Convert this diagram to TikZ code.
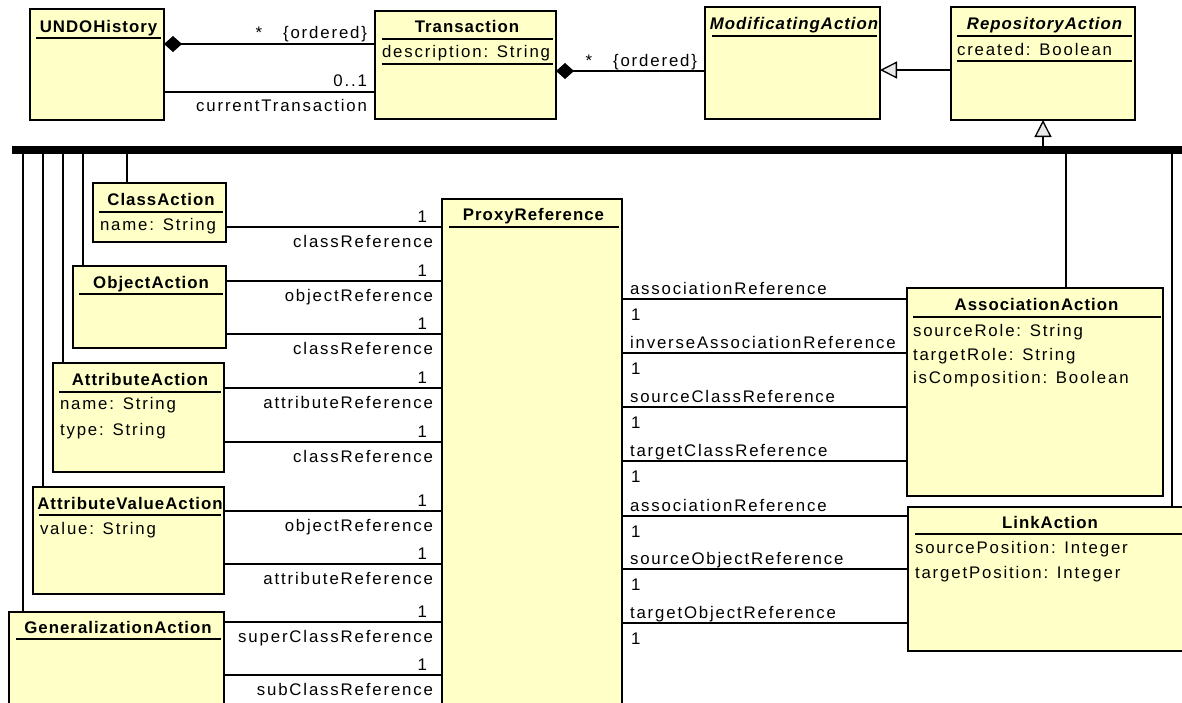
\documentclass[tikz,border=0pt]{standalone}
\usepackage{fontspec}
\setmainfont{Liberation Sans}[LetterSpace=11,BoldFeatures={LetterSpace=6},BoldItalicFeatures={LetterSpace=6}]
\usetikzlibrary{arrows.meta,calc}
\definecolor{clsfill}{RGB}{255,255,200}
\definecolor{tipfill}{RGB}{232,232,232}

\begin{document}
\begin{tikzpicture}[x=1pt,y=-1pt,
  every node/.style={font=\fontsize{16.8}{20}\selectfont, inner sep=0pt, outer sep=0pt},
  cls/.style 2 args={draw, fill=clsfill, line width=1.4pt, anchor=north west,
                     minimum width=#1pt, minimum height=#2pt},
  ttl/.style={font=\fontsize{16.8}{20}\selectfont\bfseries, anchor=base},
  attr/.style={anchor=base west},
  sep/.style={line width=1.3pt},
  conn/.style={line width=1.3pt},
  comp/.style={conn, {Diamond[length=18pt,width=16pt]}-},
  gen/.style={conn, -{Triangle[open, length=17pt, width=17pt, fill=tipfill]}}
]
\useasboundingbox (0,0) rectangle (1182,702);
\clip (0,0) rectangle (1182,702);
\fill[white] (0,0) rectangle (1182,702);

% class boxes
\node[cls={134}{111}] (undo)   at (30,9)    {};
\node[cls={181}{108}] (trans)  at (375,11)  {};
\node[cls={175}{112}] (modif)  at (705,7)   {};
\node[cls={184}{113}] (repo)   at (951,7)   {};
\node[cls={133}{59}]  (classA) at (93,183)  {};
\node[cls={153}{82}]  (objA)   at (73,266)  {};
\node[cls={171}{109}] (attrA)  at (53,363)  {};
\node[cls={191}{107}] (avA)    at (33,487)  {};
\node[cls={215}{110}] (genA)   at (9,612)   {};
\node[cls={180}{523}] (proxy)  at (442,199) {};
\node[cls={256}{208}] (assocA) at (907,288) {};
\node[cls={281}{144}] (linkA)  at (908,507) {};

% compartment separators
\foreach \b/\dy/\l/\r in {undo/29/6/3, trans/28/7/3, trans/53/7/3, modif/29/7/3,
    repo/29/6/3, repo/54/6/3, classA/29/6/3, objA/28/6/3, attrA/29/6/3,
    avA/28/6/3, genA/27/7/3, proxy/28/7/3, assocA/29/6/2, linkA/27/7/3}
  \draw[sep] ($(\b.north west)+(\l,\dy)$) -- ($(\b.north east)+(-\r,\dy)$);

% class names
\node[ttl] (tUndo)   at ($(undo.north)+(1.5,23)$)   {UNDOHistory};
\node[ttl] (tTrans)  at ($(trans.north)+(1.5,21)$)  {Transaction};
\node[ttl] (tModif)  at ($(modif.north)+(1.5,22)$)  {\itshape ModificatingAction};
\node[ttl] (tRepo)   at ($(repo.north)+(1.5,22)$)   {\itshape RepositoryAction};
\node[ttl] (tClass)  at ($(classA.north)+(1.5,22)$) {ClassAction};
\node[ttl] (tObj)    at ($(objA.north)+(1.5,22)$)   {ObjectAction};
\node[ttl] (tAttr)   at ($(attrA.north)+(1.5,22)$)  {AttributeAction};
\node[ttl] (tAv)     at ($(avA.north)+(1.5,22)$)    {AttributeValueAction};
\node[ttl] (tGen)    at ($(genA.north)+(1.5,21)$)   {GeneralizationAction};
\node[ttl] (tProxy)  at ($(proxy.north)+(1.5,21)$)  {ProxyReference};
\node[ttl] (tAssoc)  at ($(assocA.north)+(1.5,22)$) {AssociationAction};
\node[ttl] (tLink)   at ($(linkA.north)+(1.5,21)$)  {LinkAction};

% attributes
\node[attr] (aTrans)  at ($(trans.north west)+(7,46)$)  {description: String};
\node[attr] (aRepo)   at ($(repo.north west)+(6,48)$)   {created: Boolean};
\node[attr] (aClass)  at ($(classA.north west)+(7,47)$) {name: String};
\node[attr] (aAttr1)  at ($(attrA.north west)+(7,46)$)  {name: String};
\node[attr] (aAttr2)  at ($(attrA.north west)+(7,72)$)  {type: String};
\node[attr] (aAv)     at ($(avA.north west)+(7,47)$)    {value: String};
\node[attr] (aAssoc1) at ($(assocA.north west)+(6,48)$) {sourceRole: String};
\node[attr] (aAssoc2) at ($(assocA.north west)+(6,72)$) {targetRole: String};
\node[attr] (aAssoc3) at ($(assocA.north west)+(6,95)$) {isComposition: Boolean};
\node[attr] (aLink1)  at ($(linkA.north west)+(7,46)$)  {sourcePosition: Integer};
\node[attr] (aLink2)  at ($(linkA.north west)+(7,71)$)  {targetPosition: Integer};

% associations along the top
\draw[comp] (undo.east |- 0,44) -- (trans.west |- 0,44)
  node[pos=1, anchor=base east, xshift=-8pt, yshift=6pt] (ordA) {\{ordered\}}
  node[pos=1, anchor=base, xshift=-116pt, yshift=6pt] (starA) {*};
\draw[conn] (undo.east |- 0,92) -- (trans.west |- 0,92)
  node[pos=1, anchor=base east, xshift=-8pt, yshift=6pt] (mCur) {0..1}
  node[pos=1, anchor=base east, xshift=-8pt, yshift=-19pt] (rCur) {currentTransaction};
\draw[comp] (trans.east |- 0,71) -- (modif.west |- 0,71)
  node[pos=1, anchor=base east, xshift=-8pt, yshift=5pt] (ordB) {\{ordered\}}
  node[pos=1, anchor=base, xshift=-116pt, yshift=5pt] (starB) {*};
\draw[gen] (repo.west |- 0,70) -- (modif.east |- 0,70);

% inheritance bus
\coordinate (busW) at (12,150);
\coordinate (busE) at (1182,150);
\draw[line width=8pt] (busW) -- (busE);
\coordinate (brR) at (repo.south |- busW);
\draw[gen] (brR) -- (repo.south);
\foreach \bx/\dst [count=\i] in {23/genA, 43/avA, 63/attrA, 83/objA, 127/classA, 1066/assocA, 1172/linkA} {
  \coordinate (br\i) at (\bx,150);
  \draw[conn] (br\i) -- (br\i |- \dst.north);
}

% references into ProxyReference, left side
\foreach \src/\yy/\role [count=\i] in {classA/227/classReference, objA/281/objectReference,
    objA/334/classReference, attrA/388/attributeReference, attrA/442/classReference,
    avA/511/objectReference, avA/564/attributeReference,
    genA/622/superClassReference, genA/675/subClassReference}
  \draw[conn] (\src.east |- 0,\yy) -- (proxy.west |- 0,\yy)
    node[pos=1, anchor=base east, xshift=-15pt, yshift=5pt] (lm\i) {1}
    node[pos=1, anchor=base east, xshift=-9pt, yshift=-20pt] (lr\i) {\role};

% references into ProxyReference, right side
\foreach \dst/\yy/\role [count=\i] in {assocA/299/associationReference,
    assocA/353/inverseAssociationReference, assocA/407/sourceClassReference,
    assocA/461/targetClassReference, linkA/516/associationReference,
    linkA/569/sourceObjectReference, linkA/623/targetObjectReference}
  \draw[conn] (proxy.east |- 0,\yy) -- (\dst.west |- 0,\yy)
    node[pos=0, anchor=base west, xshift=8pt, yshift=5pt] (rr\i) {\role}
    node[pos=0, anchor=base west, xshift=9pt, yshift=-21pt] (rm\i) {1};
\end{tikzpicture}
\end{document}
